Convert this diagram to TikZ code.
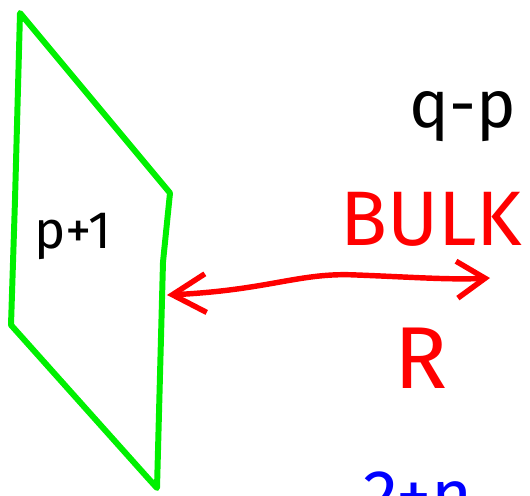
\documentclass[tikz,border=0pt]{standalone}
\usepackage{fontspec}
\setmainfont{Fira Sans}
\usepackage{tikz}
\usetikzlibrary{arrows.meta}
\definecolor{branegreen}{HTML}{00F000}
\definecolor{bulkred}{HTML}{FF0000}
\definecolor{extrablue}{HTML}{0000FF}

\begin{document}
\begin{tikzpicture}[x=0.02cm,y=-0.02cm,line cap=round,line join=round]
  \useasboundingbox (0,0) rectangle (530,495);
  \clip (0,0) rectangle (530,495);
  % the brane
  \draw[branegreen,line width=3.4pt] (20,13) -- (170,193) -- (163,262) -- (157,488)
    -- (147,477) -- (11,325) -- (15,200) -- cycle;
  \node[font=\fontsize{30}{32}\selectfont] (worldvol) at (73,236) {p+1};
  \coordinate (braneside) at (167,295);
  \coordinate (bulkend) at (490,278);
  % labels on the right
  \node[anchor=base west,font=\fontsize{38}{40}\selectfont] (codim) at (403,127) {q-p};
  \node[anchor=base west,color=bulkred,font=\fontsize{44}{46}\selectfont] (bulk) at (334,245) {BULK};
  \node[anchor=base west,color=bulkred,font=\fontsize{50}{52}\selectfont] (dist) at (388,388) {R};
  \node[anchor=base west,color=extrablue,font=\fontsize{40}{42}\selectfont] (extra) at (357,519) {2+n};
  \draw[bulkred,line width=3.1pt,{Straight Barb[length=19pt,width=22pt]}-{Straight Barb[length=16pt,width=21pt]}]
    (braneside) .. controls (270,290) and (300,272) .. (357,275)
    .. controls (410,277) and (450,280) .. (bulkend);
\end{tikzpicture}
\end{document}
